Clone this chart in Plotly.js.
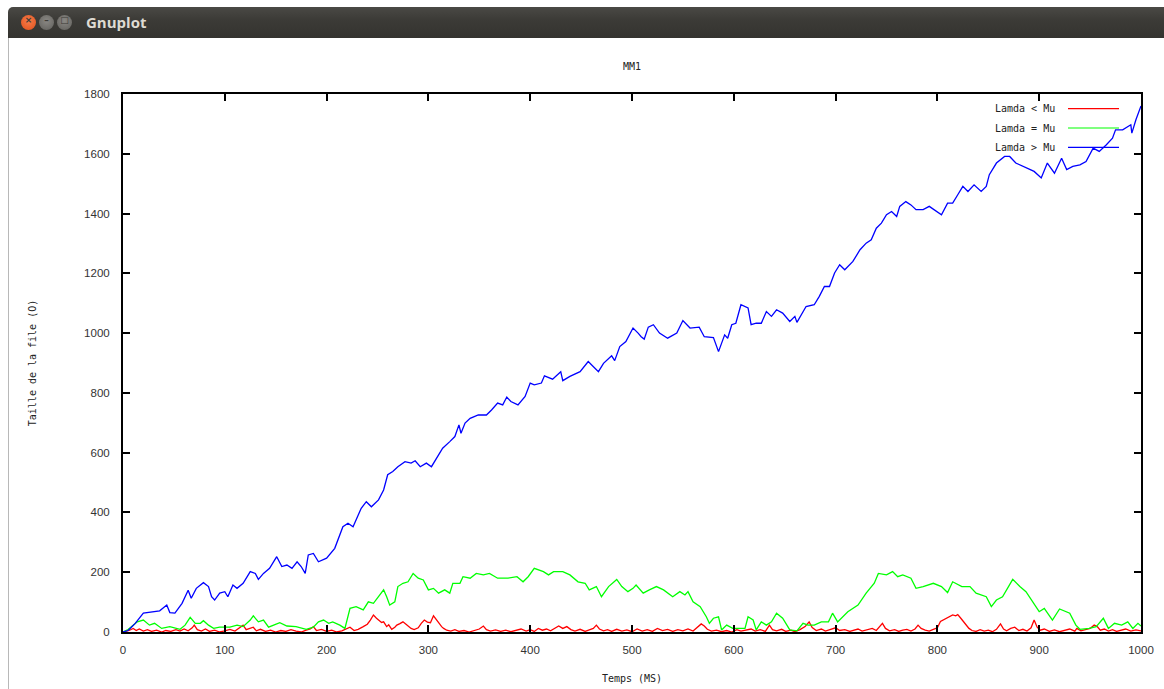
<!DOCTYPE html>
<html>
<head>
<meta charset="utf-8">
<script src="https://cdn.plot.ly/plotly-3.0.1.min.js"></script>
<style>
  html, body { margin:0; padding:0; background:#ffffff; width:1164px; height:689px; overflow:hidden; }
  #chart { position:absolute; left:0; top:0; width:1164px; height:689px; }
  #titlebar { position:absolute; left:8px; top:7px; width:1156px; height:31px; z-index:10;
    background:linear-gradient(#4a4945, #3c3b37 40%, #34332f); border-radius:5px 0 0 0; }
  .btn { position:absolute; top:8px; width:15px; height:15px; border-radius:50%; }
  #bclose { left:13px; background:radial-gradient(circle at 50% 40%, #f57c4a, #e0501b); }
  #bmin { left:31px; background:radial-gradient(circle at 50% 40%, #8a8884, #5f5e5a); }
  #bmax { left:49px; background:radial-gradient(circle at 50% 40%, #8a8884, #5f5e5a); }
  .btn span { position:absolute; left:0; top:0; width:15px; height:15px; text-align:center; line-height:15px;
    font:bold 9px "DejaVu Sans", sans-serif; color:#3c3b37; }
  #wtitle { position:absolute; left:78px; top:5px; font:bold 15px "Open Sans","DejaVu Sans",sans-serif; color:#dfdbd2; }
  #leftborder { position:absolute; left:8px; top:38px; width:1px; height:651px; background:#b8b8b8; z-index:10; }
</style>
</head>
<body>
<div id="chart"></div>
<div id="titlebar">
  <div class="btn" id="bclose"><span>×</span></div>
  <div class="btn" id="bmin"><span>–</span></div>
  <div class="btn" id="bmax"><span>□</span></div>
  <div id="wtitle">Gnuplot</div>
</div>
<div id="leftborder"></div>
<script>
// ---- Data (time in ms, queue size) ----
const seriesNames = ["Lamda < Mu", "Lamda = Mu", "Lamda > Mu"];
const seriesColors = ["#ff0000", "#00ff00", "#0000ff"];

const redT = [
  0,3,6,10,13,16,20,24,28,33,
  38,42,47,52,56,60,64,68,70,73,
  77,81,85,90,95,100,105,110,114,118,
  121,125,128,131,135,140,145,150,155,160,
  165,170,175,180,184,187,190,195,200,205,
  210,215,219,223,227,231,236,240,243,246,
  249,251,254,256,259,261,264,267,269,272,
  275,278,280,283,286,290,293,296,299,302,
  305,308,310,313,315,318,322,326,330,335,
  340,345,350,354,357,361,366,371,376,381,
  386,391,396,400,404,408,412,416,420,425,
  428,432,436,440,444,449,454,458,462,465,
  468,472,476,480,485,490,495,500,505,510,
  515,520,525,530,535,540,545,550,555,560,
  565,568,571,574,578,583,588,593,598,603,
  607,612,617,621,626,631,635,638,642,647,
  651,656,660,665,670,674,677,681,686,690,
  695,700,704,709,714,718,722,726,731,736,
  740,743,746,749,753,758,762,766,770,774,
  778,781,784,788,792,796,800,803,806,809,
  812,815,818,820,823,826,828,831,834,838,
  842,846,850,854,858,862,865,868,872,876,
  880,884,888,892,895,898,901,905,910,915,
  920,925,930,935,937,941,945,950,954,957,
  960,964,968,972,976,980,985,990,995,1000
];
const redQ = [
  0,2,5,12,5,10,3,8,2,6,
  0,5,2,8,3,10,4,14,23,8,
  3,10,2,6,0,4,9,3,12,23,
  8,14,16,4,9,2,6,0,5,2,
  8,3,0,6,10,18,5,9,2,6,
  0,4,10,16,5,9,18,26,40,57,
  46,40,32,34,18,24,9,16,23,28,
  34,26,20,12,8,14,29,40,33,31,
  54,40,29,18,12,6,3,8,2,5,
  0,6,10,20,8,3,7,2,6,1,
  5,10,3,8,2,12,6,10,4,14,
  20,12,18,8,3,9,2,7,12,23,
  10,4,8,2,9,3,7,1,10,3,
  8,2,12,5,9,2,8,4,10,3,
  18,27,20,9,3,6,1,5,0,8,
  3,6,10,3,8,2,23,8,4,9,
  2,6,1,8,18,34,15,5,10,3,
  9,14,5,8,2,6,10,3,7,12,
  5,18,29,12,4,8,2,6,9,3,
  10,23,12,6,3,9,14,35,40,46,
  52,57,54,58,46,34,23,12,5,2,
  8,3,6,1,9,27,10,4,12,16,
  5,9,3,14,40,16,6,10,2,7,
  1,6,10,3,12,4,8,12,23,18,
  6,10,3,8,2,6,10,3,7,4
];

const greenT = [
  0,5,10,14,20,26,31,38,46,56,
  61,66,71,76,79,84,89,95,105,112,
  118,125,128,133,138,143,148,154,161,170,
  180,187,192,197,202,206,213,218,223,229,
  236,241,246,251,256,259,262,267,270,275,
  280,285,290,295,300,305,310,316,321,324,
  331,334,341,347,354,360,368,378,387,393,
  398,404,413,418,423,432,439,447,454,458,
  465,470,477,485,490,496,501,504,511,517,
  524,531,540,547,552,555,560,567,573,576,
  580,585,588,593,599,606,611,614,619,622,
  627,632,637,642,648,655,662,668,673,679,
  686,693,697,702,712,722,730,738,742,750,
  756,761,766,774,779,786,796,804,810,815,
  824,832,838,848,853,858,864,874,881,887,
  894,900,905,913,920,930,936,940,949,956,
  963,968,974,981,987,992,997,1000
];
const greenQ = [
  0,8,23,34,40,23,29,12,18,9,
  23,49,29,29,38,23,12,16,16,23,
  18,40,54,34,40,16,23,31,20,18,
  9,16,34,40,29,34,23,12,79,85,
  74,101,96,118,141,118,90,101,152,163,
  168,196,180,174,141,146,130,141,130,163,
  163,185,180,196,191,196,180,180,185,168,
  185,213,202,191,202,202,191,168,163,141,
  152,118,152,176,152,135,146,157,130,141,
  152,141,118,135,124,135,101,85,51,29,
  46,51,7,23,12,12,12,51,40,7,
  34,23,34,63,46,7,4,29,23,23,
  34,34,63,34,68,90,130,163,196,191,
  202,185,191,180,146,152,163,152,132,168,
  152,152,130,118,85,107,118,176,152,135,
  101,68,79,40,77,63,23,9,12,18,
  46,12,29,23,34,12,29,20
];

const blueT = [
  0,5,8,12,20,30,36,43,46,51,
  58,64,67,72,79,84,87,90,95,100,
  103,108,112,118,125,130,133,138,144,151,
  156,161,166,171,175,179,182,187,192,200,
  208,216,221,226,234,239,244,251,256,260,
  265,270,277,283,287,292,298,303,308,314,
  321,326,330,332,336,341,349,357,362,368,
  373,377,381,388,395,400,404,411,414,422,
  430,432,439,449,457,462,467,472,480,483,
  488,494,501,506,509,512,516,521,527,535,
  544,550,557,566,571,580,585,591,594,598,
  602,607,614,617,622,627,632,637,642,648,
  655,660,662,671,679,684,689,694,699,704,
  709,717,724,730,735,740,745,750,755,760,
  763,769,774,779,786,792,797,804,810,815,
  820,825,830,836,843,848,851,858,866,871,
  877,887,895,902,908,915,922,927,933,940,
  946,953,959,966,972,975,982,990,991,995,
  999,1000
];
const blueQ = [
  0,5,15,29,63,68,71,90,65,63,
  96,140,113,146,165,152,118,107,130,135,
  118,157,146,163,202,196,176,196,213,252,
  219,224,213,235,219,196,258,263,235,247,
  280,352,364,352,414,436,419,442,475,526,
  537,553,570,565,573,553,565,553,581,615,
  637,654,693,665,699,715,726,726,743,766,
  760,786,771,760,788,833,827,833,857,846,
  871,841,855,871,905,888,871,899,924,908,
  955,972,1017,1000,988,980,1020,1028,1000,983,
  1000,1042,1017,1020,988,985,938,994,983,1028,
  1033,1095,1084,1028,1033,1033,1072,1056,1078,1067,
  1039,1056,1036,1089,1095,1123,1156,1156,1201,1229,
  1212,1240,1279,1301,1312,1351,1368,1396,1407,1390,
  1424,1440,1429,1413,1413,1424,1413,1396,1435,1435,
  1463,1491,1474,1496,1474,1491,1530,1569,1591,1591,
  1569,1552,1541,1519,1569,1535,1585,1547,1558,1563,
  1574,1619,1608,1630,1652,1680,1680,1697,1669,1714,
  1747,1760
];

const xTicks = [0,100,200,300,400,500,600,700,800,900,1000];
const yTicks = [0,200,400,600,800,1000,1200,1400,1600,1800];

// ---- Chart ----
const monoFont = {family: "DejaVu Sans Mono, monospace", size: 10, color: "#222222"};
const tickFont = {family: "Liberation Sans, Arial, sans-serif", size: 11.5, color: "#333333"};

const xs = [redT, greenT, blueT];
const ys = [redQ, greenQ, blueQ];
const traces = seriesNames.map((n, i) => ({
  type: "scatter", mode: "lines", name: n,
  x: xs[i], y: ys[i],
  line: {color: seriesColors[i], width: 1.3},
  hoverinfo: "skip"
}));

// gnuplot-style legend: text, then line sample (drawn in paper coordinates)
const legY = [0.9727, 0.9368, 0.9007];
const annotations = seriesNames.map((n, i) => ({
  xref: "paper", yref: "paper", x: 0.9175, y: legY[i],
  xanchor: "right", yanchor: "middle", showarrow: false,
  text: n.replace("<", "&lt;").replace(">", "&gt;"), font: monoFont
}));
const shapes = seriesNames.map((n, i) => ({
  type: "line", xref: "paper", yref: "paper",
  x0: 0.9283, x1: 0.9784, y0: legY[i], y1: legY[i],
  line: {color: seriesColors[i], width: 1.2}
}));

const layout = {
  width: 1164, height: 689,
  margin: {l: 123, r: 23, t: 94, b: 57, pad: 0},
  paper_bgcolor: "#ffffff", plot_bgcolor: "#ffffff",
  showlegend: false,
  title: {text: "MM1", font: monoFont, x: 0.5, xref: "paper", xanchor: "center",
          y: 1 - 66/689, yref: "container", yanchor: "middle"},
  xaxis: {
    range: [0, 1000], tickvals: xTicks, ticktext: xTicks.map(String),
    showgrid: false, zeroline: false,
    showline: true, linecolor: "#000000", linewidth: 2, mirror: "ticks",
    ticks: "inside", ticklen: 7, tickwidth: 2, tickcolor: "#000000",
    tickfont: tickFont, ticklabelstandoff: 6,
    title: {text: "Temps (MS)", font: monoFont, standoff: 20},
    automargin: false
  },
  yaxis: {
    range: [0, 1800], tickvals: yTicks, ticktext: yTicks.map(String),
    showgrid: false, zeroline: false,
    showline: true, linecolor: "#000000", linewidth: 2, mirror: "ticks",
    ticks: "inside", ticklen: 7, tickwidth: 2, tickcolor: "#000000",
    tickfont: tickFont, ticklabelstandoff: 9,
    title: {text: "Taille de la file (O)", font: monoFont, standoff: 46},
    automargin: false
  },
  annotations: annotations,
  shapes: shapes
};

Plotly.newPlot("chart", traces, layout, {displayModeBar: false, staticPlot: true});
</script>
</body>
</html>
